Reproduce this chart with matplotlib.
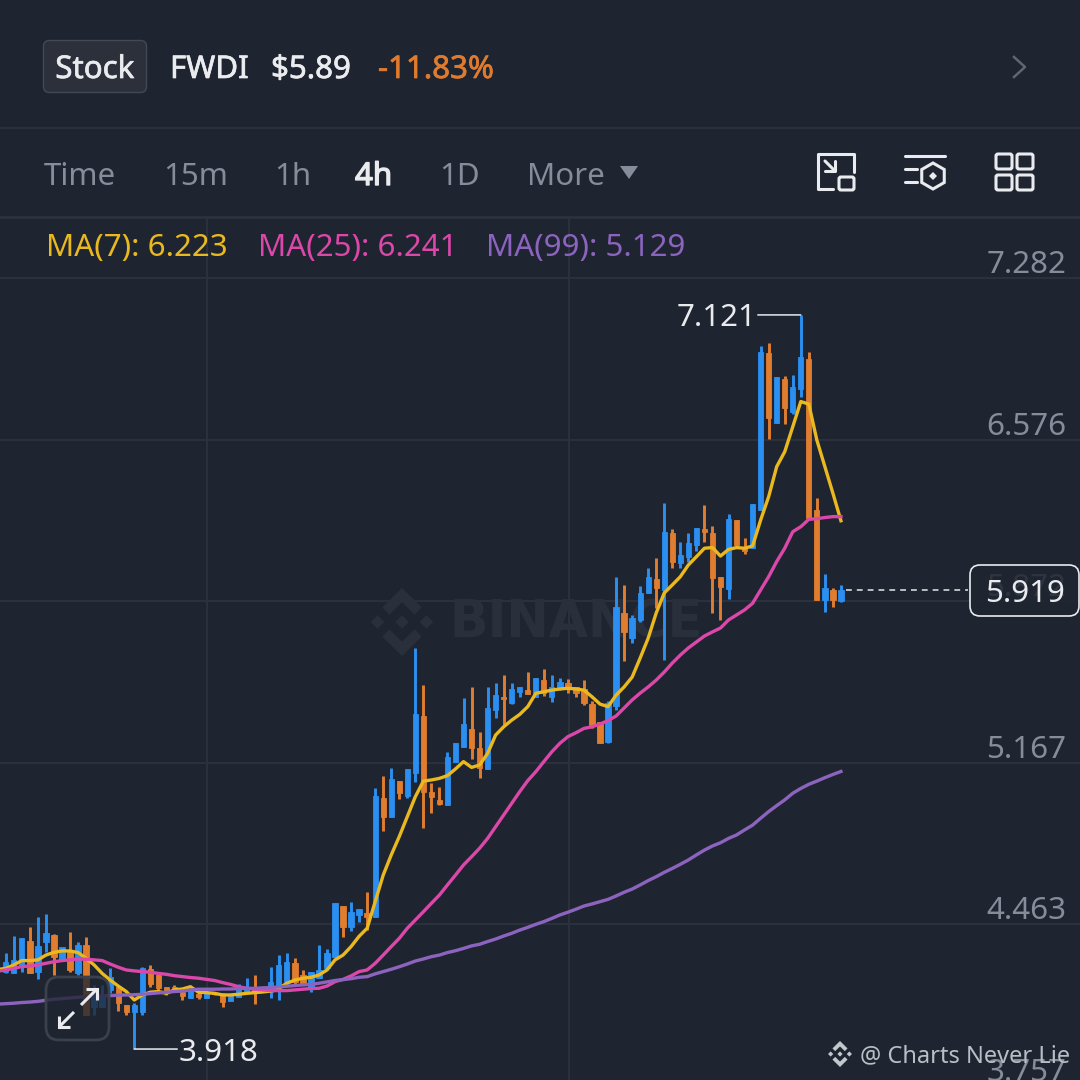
"""FWDI 4h candlestick screen with MA(7), MA(25), MA(99)."""

import matplotlib
matplotlib.use("Agg")
import matplotlib.pyplot as plt
import matplotlib.patheffects as pe
from matplotlib.patches import FancyBboxPatch, Polygon, RegularPolygon
from matplotlib.transforms import Affine2D

plt.rcParams["font.family"] = ["Noto Sans", "DejaVu Sans"]

# ---------------------------------------------------------------------------
# Data
# ---------------------------------------------------------------------------

opens = [
    4.254, 4.250, 4.285, 4.389, 4.254, 4.385, 4.415, 4.306, 4.350, 4.250,
    4.372, 4.101, 4.101, 4.176, 4.189, 4.110, 4.080, 4.080, 4.267, 4.241,
    4.189, 4.189, 4.167, 4.141, 4.158, 4.141, 4.162, 4.154, 4.128, 4.145,
    4.162, 4.184, 4.171, 4.167, 4.184, 4.211, 4.293, 4.241, 4.184, 4.228,
    4.272, 4.320, 4.542, 4.450, 4.503, 4.512, 4.494, 5.013, 4.930, 5.087,
    5.022, 5.122, 5.371, 5.039, 5.004, 4.983, 5.170, 5.236, 5.314, 5.231,
    5.140, 5.397, 5.454, 5.428, 5.476, 5.485, 5.454, 5.528, 5.454, 5.493,
    5.515, 5.498, 5.489, 5.423, 5.345, 5.258, 5.415, 5.820, 5.711, 5.790,
    5.908, 5.969, 5.921, 6.170, 6.039, 6.065, 6.117, 6.187, 6.170, 5.978,
    5.925, 6.226, 6.108, 6.104, 6.270, 6.955, 6.649, 6.841, 6.697, 6.798,
    6.929, 6.270, 5.877, 5.921, 5.873,
]
highs = [
    4.337, 4.411, 4.402, 4.450, 4.494, 4.507, 4.420, 4.363, 4.429, 4.385,
    4.407, 4.197, 4.197, 4.272, 4.189, 4.110, 4.119, 4.276, 4.285, 4.241,
    4.189, 4.197, 4.167, 4.176, 4.167, 4.167, 4.167, 4.162, 4.158, 4.202,
    4.228, 4.241, 4.189, 4.276, 4.328, 4.337, 4.315, 4.263, 4.254, 4.372,
    4.355, 4.555, 4.542, 4.559, 4.529, 4.603, 5.057, 5.109, 5.144, 5.087,
    5.140, 5.668, 5.506, 5.079, 5.061, 5.214, 5.253, 5.450, 5.498, 5.301,
    5.498, 5.515, 5.550, 5.515, 5.498, 5.563, 5.537, 5.576, 5.550, 5.537,
    5.533, 5.498, 5.528, 5.437, 5.345, 5.437, 5.978, 5.943, 5.812, 5.938,
    6.017, 6.060, 6.300, 6.187, 6.130, 6.170, 6.191, 6.292, 6.200, 5.978,
    6.252, 6.226, 6.148, 6.296, 6.985, 6.998, 6.850, 6.855, 6.859, 7.121,
    6.959, 6.322, 5.991, 5.930, 5.943,
]
lows = [
    4.250, 4.250, 4.254, 4.250, 4.224, 4.341, 4.241, 4.306, 4.254, 4.241,
    4.067, 4.067, 4.101, 4.162, 4.084, 4.067, 3.918, 4.067, 4.189, 4.167,
    4.154, 4.176, 4.132, 4.141, 4.136, 4.141, 4.154, 4.101, 4.128, 4.145,
    4.162, 4.115, 4.167, 4.141, 4.132, 4.197, 4.197, 4.197, 4.167, 4.228,
    4.263, 4.320, 4.407, 4.433, 4.472, 4.437, 4.494, 4.869, 4.930, 5.009,
    5.013, 5.083, 4.882, 4.948, 4.983, 4.983, 5.170, 5.236, 5.184, 5.101,
    5.140, 5.362, 5.332, 5.423, 5.454, 5.467, 5.454, 5.458, 5.432, 5.485,
    5.471, 5.454, 5.419, 5.319, 5.253, 5.253, 5.397, 5.611, 5.689, 5.781,
    5.908, 5.842, 5.615, 6.017, 6.017, 6.043, 6.091, 6.130, 5.821, 5.790,
    5.882, 6.117, 6.078, 6.104, 6.270, 6.580, 6.649, 6.645, 6.689, 6.763,
    6.235, 5.877, 5.825, 5.847, 5.869,
]
closes = [
    4.298, 4.306, 4.402, 4.250, 4.368, 4.424, 4.320, 4.363, 4.263, 4.372,
    4.067, 4.176, 4.154, 4.232, 4.119, 4.080, 4.110, 4.272, 4.202, 4.184,
    4.162, 4.180, 4.149, 4.176, 4.145, 4.167, 4.158, 4.123, 4.158, 4.184,
    4.184, 4.167, 4.184, 4.211, 4.285, 4.298, 4.211, 4.197, 4.254, 4.263,
    4.337, 4.555, 4.450, 4.516, 4.529, 4.494, 5.022, 4.930, 5.096, 5.035,
    5.140, 5.380, 5.039, 5.018, 4.987, 5.192, 5.253, 5.336, 5.231, 5.144,
    5.406, 5.463, 5.445, 5.489, 5.498, 5.467, 5.537, 5.471, 5.498, 5.519,
    5.489, 5.471, 5.428, 5.332, 5.253, 5.428, 5.847, 5.738, 5.799, 5.908,
    5.978, 5.930, 6.174, 6.043, 6.074, 6.126, 6.191, 6.174, 5.973, 5.934,
    6.231, 6.117, 6.091, 6.296, 6.959, 6.671, 6.850, 6.715, 6.807, 6.937,
    6.235, 5.877, 5.930, 5.877, 5.919,
]
# moving averages run one bar further left than the visible candles
ma7 = [
    4.265, 4.270, 4.285, 4.304, 4.304, 4.307, 4.328, 4.340, 4.346, 4.346, 4.339,
    4.314, 4.285, 4.248, 4.219, 4.193, 4.169, 4.132, 4.154, 4.166, 4.169,
    4.161, 4.176, 4.180, 4.190, 4.166, 4.164, 4.161, 4.154, 4.154, 4.157,
    4.161, 4.164, 4.167, 4.171, 4.183, 4.205, 4.219, 4.227, 4.231, 4.241,
    4.263, 4.307, 4.328, 4.365, 4.410, 4.445, 4.561, 4.677, 4.765, 4.845,
    4.932, 5.019, 5.087, 5.092, 5.099, 5.111, 5.140, 5.172, 5.147, 5.157,
    5.208, 5.288, 5.324, 5.353, 5.378, 5.412, 5.470, 5.477, 5.484, 5.489,
    5.492, 5.489, 5.484, 5.455, 5.423, 5.412, 5.462, 5.498, 5.541, 5.624,
    5.711, 5.821, 5.908, 5.943, 5.979, 6.030, 6.066, 6.103, 6.106, 6.069,
    6.098, 6.106, 6.103, 6.113, 6.226, 6.328, 6.459, 6.524, 6.633, 6.743,
    6.732, 6.575, 6.459, 6.343, 6.223,
]
ma25 = [
    4.258, 4.263, 4.270, 4.278, 4.280, 4.285, 4.292, 4.299, 4.304, 4.307, 4.311,
    4.310, 4.307, 4.304, 4.289, 4.275, 4.263, 4.259, 4.256, 4.253, 4.248,
    4.244, 4.238, 4.234, 4.230, 4.227, 4.222, 4.217, 4.208, 4.200, 4.190,
    4.183, 4.179, 4.176, 4.173, 4.173, 4.173, 4.176, 4.179, 4.182, 4.183,
    4.193, 4.212, 4.222, 4.237, 4.256, 4.263, 4.292, 4.328, 4.365, 4.401,
    4.445, 4.481, 4.517, 4.554, 4.590, 4.634, 4.677, 4.721, 4.757, 4.794,
    4.837, 4.888, 4.939, 4.990, 5.041, 5.089, 5.128, 5.172, 5.215, 5.252,
    5.281, 5.298, 5.317, 5.324, 5.336, 5.351, 5.371, 5.406, 5.441, 5.471,
    5.498, 5.528, 5.563, 5.602, 5.637, 5.668, 5.694, 5.720, 5.738, 5.755,
    5.790, 5.812, 5.834, 5.863, 5.921, 5.979, 6.045, 6.103, 6.175, 6.197,
    6.229, 6.232, 6.237, 6.241, 6.241,
]
ma99 = [
    4.114, 4.116, 4.118, 4.121, 4.123, 4.126, 4.131, 4.135, 4.138, 4.141, 4.144,
    4.147, 4.148, 4.150, 4.151, 4.153, 4.154, 4.155, 4.157, 4.160, 4.163,
    4.166, 4.169, 4.171, 4.176, 4.179, 4.179, 4.179, 4.180, 4.180, 4.182,
    4.183, 4.183, 4.185, 4.186, 4.189, 4.192, 4.195, 4.198, 4.200, 4.205,
    4.211, 4.217, 4.221, 4.225, 4.231, 4.234, 4.246, 4.256, 4.266, 4.277,
    4.289, 4.302, 4.311, 4.321, 4.328, 4.339, 4.347, 4.357, 4.368, 4.375,
    4.387, 4.398, 4.411, 4.423, 4.437, 4.449, 4.462, 4.474, 4.488, 4.503,
    4.515, 4.528, 4.542, 4.551, 4.561, 4.571, 4.586, 4.602, 4.616, 4.634,
    4.653, 4.670, 4.689, 4.706, 4.724, 4.743, 4.765, 4.786, 4.804, 4.818,
    4.837, 4.852, 4.874, 4.895, 4.925, 4.954, 4.980, 5.005, 5.034, 5.055,
    5.073, 5.087, 5.102, 5.116, 5.129,
]
price_ticks = [7.282, 6.576, 5.872, 5.167, 4.463, 3.757]
time_grid = [25.06, 70.14]

header_texts = [("FWDI", 170, "#eaecef"), ("$5.89", 271, "#eaecef"), ("-11.83%", 378, "#e07b2e")]
interval_texts = [("Time", 44), ("15m", 163), ("1h", 274), ("4h", 355), ("1D", 439), ("More", 527)]
ma_texts = [("MA(7): 6.223", 46, "#eab91f"), ("MA(25): 6.241", 258, "#dc47aa"), ("MA(99): 5.129", 486, "#8c64bf")]

BG = "#1f2530"
GRID = "#2c323d"
BLUE = "#2a8ff0"
ORANGE = "#e07d2f"
GREY = "#858d9a"
WHITE = "#e9ebef"
MARK = "#2a303b"
FS = 22.5


def draw_logo(ax, cx, cy, s, color, zorder=1):
    """Binance style mark: centre and side diamonds plus two chevrons."""
    for dx, dy in [(0, 0), (-0.72, 0), (0.72, 0)]:
        pts = [(0, 0.2), (0.2, 0), (0, -0.2), (-0.2, 0)]
        ax.add_patch(Polygon([(cx + s * (x + dx), cy + s * (y + dy)) for x, y in pts],
                             fc=color, ec="none", zorder=zorder))
    for sign in (1, -1):
        pts = [(0, 1), (0.58, 0.43), (0.37, 0.22), (0, 0.58), (-0.37, 0.22), (-0.58, 0.43)]
        ax.add_patch(Polygon([(cx + s * x, cy + sign * s * y) for x, y in pts],
                             fc=color, ec="none", zorder=zorder))


def rounded(ax, x0, y0, w, h, r, **kw):
    ax.add_patch(FancyBboxPatch((x0, y0), w, h, boxstyle=f"round,pad=0,rounding_size={r}", **kw))


def heavier(color, width):
    return [pe.withStroke(linewidth=width, foreground=color)]


fig = plt.figure(figsize=(10.8, 10.8), dpi=100, facecolor=BG)

# ---------------------------------------------------------------------------
# Price chart
# ---------------------------------------------------------------------------

ax = fig.add_axes([0, -10 / 1080, 1, 872 / 1080], facecolor=BG)
ax.set_xlim(-0.72, 133.77)
ax.set_ylim(3.7393, 7.5439)
for spine in ax.spines.values():
    spine.set_visible(False)

ax.set_xticks(time_grid)
ax.set_yticks(price_ticks)
ax.set_yticklabels([f"{t:.3f}" for t in price_ticks])
ax.yaxis.tick_right()
ax.tick_params(axis="x", length=0, labelbottom=False)
ax.tick_params(axis="y", length=0, pad=-10, labelsize=FS, labelcolor=GREY)
for lbl in ax.get_yticklabels():
    lbl.set_ha("right")
    lbl.set_va("bottom")
    lbl.set_transform(lbl.get_transform() + Affine2D().translate(0, -2))
ax.grid(True, color=GRID, lw=1.4, zorder=0)
ax.set_axisbelow(True)

ax.text(55.2, 5.773, "BINANCE", fontsize=36.5, fontweight="bold", family="DejaVu Sans",
        color=MARK, va="center", ha="left", zorder=1)

xs = list(range(len(closes)))
for i in xs:
    color = BLUE if closes[i] >= opens[i] else ORANGE
    ax.vlines(i, lows[i], highs[i], color=color, lw=2.1, zorder=3)
    ax.bar(i, abs(closes[i] - opens[i]), bottom=min(opens[i], closes[i]), width=0.66,
           color=color, ec=color, lw=0.6, zorder=3)

ma_x = list(range(-1, len(closes)))
ax.plot(ma_x, ma7, color="#eab91f", lw=2.4, zorder=4)
ax.plot(ma_x, ma25, color="#dc47aa", lw=2.4, zorder=5)
ax.plot(ma_x, ma99, color="#8c64bf", lw=2.4, zorder=6)

# high / low markers
i_hi = highs.index(max(highs))
i_lo = lows.index(min(lows))
line_kw = dict(arrowstyle="-", color=WHITE, lw=1.1, shrinkA=0, shrinkB=0)
ax.annotate("", xy=(i_hi, highs[i_hi]), xytext=(-43, 0), textcoords="offset pixels", arrowprops=line_kw, zorder=8)
ax.annotate("", xy=(i_lo, lows[i_lo]), xytext=(43, 0), textcoords="offset pixels", arrowprops=line_kw, zorder=8)
ax.annotate(f"{highs[i_hi]:.3f}", xy=(i_hi, highs[i_hi]), xytext=(-44, -3), textcoords="offset pixels",
            ha="right", va="center", color=WHITE, fontsize=FS, zorder=8)
ax.annotate(f"{lows[i_lo]:.3f}", xy=(i_lo, lows[i_lo]), xytext=(44, -4), textcoords="offset pixels",
            ha="left", va="center", color=WHITE, fontsize=FS, zorder=8)

# last price
ax.hlines(closes[-1], 104.6, 119.8, color="#d5d8dd", lw=1.2, linestyles=(0, (3.5, 3)), zorder=7)

# ---------------------------------------------------------------------------
# Screen furniture, in pixel coordinates
# ---------------------------------------------------------------------------

ui = fig.add_axes([0, 0, 1, 1], facecolor="none")
ui.set_xlim(0, 1080)
ui.set_ylim(1080, 0)
ui.axis("off")

draw_logo(ui, 402, 622, 34, MARK, zorder=0)
ui.set_zorder(ax.get_zorder() + 1)

ui.plot([0, 1080], [128, 128], color=GRID, lw=1.4)
ui.plot([0, 1080], [217, 217], color=GRID, lw=2)

rounded(ui, 43.5, 40.5, 103, 52, 6, fc="#2b303b", ec="#434a56", lw=1)
ui.text(95, 70, "Stock", fontsize=FS, color=WHITE, ha="center", va="center",
        path_effects=heavier(WHITE, 0.5))
for label, x, color in header_texts:
    ui.text(x, 70, label, fontsize=FS, color=color, ha="left", va="center",
            path_effects=heavier(color, 0.5))

for label, x in interval_texts:
    active = label == "4h"
    ui.text(x, 177, label, fontsize=FS, color=WHITE if active else GREY, ha="left", va="center",
            path_effects=heavier(WHITE, 1.0) if active else None)
ui.add_patch(Polygon([(620, 166), (638, 166), (629, 179)], fc=GREY, ec="none"))

for label, x, color in ma_texts:
    ui.text(x, 248, label, fontsize=FS, color=color, ha="left", va="center")

ui.plot([1014, 1025, 1014], [57, 67, 77], color="#5e6673", lw=1.8)

# toolbar icons
ikw = dict(color=WHITE, lw=2.2, solid_capstyle="round", solid_joinstyle="round")
ui.plot([833, 818, 818, 854, 854], [189, 189, 154, 154, 172], **ikw)
ui.plot([825, 835], [161, 171], **ikw)
ui.plot([825, 835, 835], [171, 171, 161], **ikw)
rounded(ui, 839, 177, 15, 13, 2, fc="none", ec=WHITE, lw=2.2)
ui.plot([905, 945], [156, 156], **ikw)
ui.plot([905, 917], [169, 169], **ikw)
ui.plot([905, 917], [182, 182], **ikw)
ui.add_patch(RegularPolygon((933, 176), 6, radius=13, fc="none", ec=WHITE, lw=2.2))
ui.add_patch(Polygon([(933, 172), (937, 176), (933, 180), (929, 176)], fc=WHITE, ec="none"))
for x0 in (996, 1017):
    for y0 in (154, 175):
        rounded(ui, x0, y0, 16, 15, 2, fc="none", ec=WHITE, lw=2.2)

# last price box (the axis label shows faintly through it)
rounded(ui, 970, 565, 109, 51, 10, fc=BG, ec="none", alpha=0.85)
rounded(ui, 970, 565, 109, 51, 10, fc="none", ec=WHITE, lw=1.2)
ui.text(1025, 594, f"{closes[-1]:.3f}", fontsize=FS, color=WHITE, ha="center", va="center")

# expand button over the candles
rounded(ui, 46, 977, 63, 63, 13, fc=BG, ec="none", alpha=0.78)
rounded(ui, 46, 977, 63, 63, 13, fc="none", ec="#3b414c", lw=2)
akw = dict(color=WHITE, lw=2.2, solid_capstyle="butt", solid_joinstyle="miter")
ui.plot([81, 97], [1005, 989], **akw)
ui.plot([86, 97, 97], [989, 989, 1000], **akw)
ui.plot([74, 59], [1012, 1027], **akw)
ui.plot([59, 59, 70], [1016, 1027, 1027], **akw)

draw_logo(ui, 840, 1054, 13, "#c4c8ce", zorder=5)
ui.text(860, 1056, "@ Charts Never Lie", fontsize=17, color="#b9bec6", ha="left", va="center",
        family=["Noto Sans", "DejaVu Sans"], zorder=5)

fig.savefig("out.png", dpi=100, facecolor=BG)
